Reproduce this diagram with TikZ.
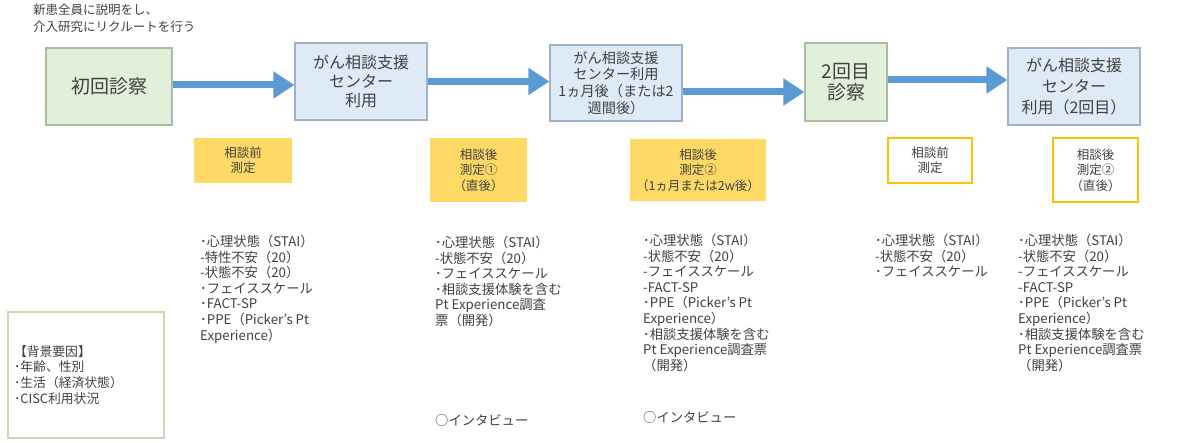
\documentclass[tikz,border=0pt]{standalone}
\usepackage{fontspec}
\setmainfont{Noto Sans CJK JP}
\usetikzlibrary{arrows.meta,calc}
\definecolor{tx}{HTML}{404040}
\definecolor{gfill}{HTML}{E2EFDA}
\definecolor{gline}{HTML}{A9BBA0}
\definecolor{bfill}{HTML}{DEEBF7}
\definecolor{bline}{HTML}{9FB2C9}
\definecolor{arrc}{HTML}{5B9BD5}
\definecolor{yfill}{HTML}{FFD966}
\definecolor{oline}{HTML}{FFC000}
\definecolor{bgline}{HTML}{C5D9B5}
\tikzset{
  every node/.style={text=tx, inner sep=0pt},
  greenbox/.style={fill=gfill, draw=gline, line width=1.2pt, align=center},
  bluebox/.style={fill=bfill, draw=bline, line width=1.2pt, align=center},
  yelbox/.style={fill=yfill, align=center, font=\fontsize{12.5}{15.5}\selectfont},
  obox/.style={fill=white, draw=oline, line width=2.5pt, align=center, font=\fontsize{12.5}{15.5}\selectfont},
  listtxt/.style={anchor=north west, align=left, font=\fontsize{13.3}{15.6}\selectfont},
  flow/.style={draw=arrc, line width=7pt, -{Triangle[length=21pt,width=26pt]}},
}
\begin{document}
\begin{tikzpicture}[x=1pt,y=-1pt]
\useasboundingbox (0,0) rectangle (1187,443);
% top note
\node[anchor=north west, align=left, font=\fontsize{12.5}{17}\selectfont] (note) at (33,4) {新患全員に説明をし、\\介入研究にリクルートを行う};
% main boxes
\node[greenbox, minimum width=126pt, minimum height=77pt, font=\fontsize{19}{22}\selectfont] (b1) at (109,86.5) {初回診察};
\node[bluebox, minimum width=132pt, minimum height=77pt, font=\fontsize{16}{19}\selectfont] (b2) at (361,81.5) {がん相談支援\\センター\\利用};
\node[bluebox, minimum width=132pt, minimum height=76pt, font=\fontsize{14.2}{16.7}\selectfont] (b3) at (616,83) {がん相談支援\\センター利用\\1ヵ月後（または2\\週間後）};
\node[greenbox, minimum width=82pt, minimum height=78pt, font=\fontsize{19}{21}\selectfont] (b4) at (846,82) {2回目\\診察};
\node[bluebox, minimum width=132pt, minimum height=77pt, font=\fontsize{16}{21}\selectfont] (b5) at (1074,86.5) {がん相談支援\\センター\\利用（2回目）};
% arrows
\draw[flow] ($(b1.east)+(0,-1.5)$) -- ($(b1.east -| b2.west)+(0,-1.5)$);
\draw[flow] (b2.east) -- (b2.east -| b3.west);
\draw[flow] ($(b3.east)+(0,9)$) -- ($(b3.east -| b4.west)+(0,9)$);
\draw[flow] ($(b4.east)+(0,-2)$) -- ($(b4.east -| b5.west)+(0,-2)$);
% measurement boxes
\node[yelbox, minimum width=98pt, minimum height=45pt] (y1) at (243,160.5) {相談前\\測定};
\node[yelbox, minimum width=97pt, minimum height=64pt] (y2) at (478.5,170) {相談後\\測定①\\（直後）};
\node[yelbox, minimum width=136pt, minimum height=62pt] (y3) at (698,170) {相談後\\測定②\\（1ヵ月または2w後）};
\node[obox, minimum width=84pt, minimum height=45pt] (o1) at (930,160.5) {相談前\\測定};
\node[obox, minimum width=85pt, minimum height=64pt] (o2) at (1095.5,170) {相談後\\測定②\\（直後）};
% lists
\node[listtxt] (l1) at (200,235) {･心理状態（STAI）\\-特性不安（20）\\-状態不安（20）\\･フェイススケール\\･FACT-SP\\･PPE（Picker's Pt\\Experience）};
\node[listtxt] (l2) at (435,236) {･心理状態（STAI）\\-状態不安（20）\\･フェイススケール\\･相談支援体験を含む\\Pt Experience調査\\票（開発）};
\node[listtxt] (i2) at (435,414) {○インタビュー};
\node[listtxt] (l3) at (643,234) {･心理状態（STAI）\\-状態不安（20）\\-フェイススケール\\-FACT-SP\\･PPE（Picker's Pt\\Experience）\\･相談支援体験を含む\\Pt Experience調査票\\（開発）};
\node[listtxt] (i3) at (643,411) {○インタビュー};
\node[listtxt] (l4) at (875,234) {･心理状態（STAI）\\-状態不安（20）\\･フェイススケール};
\node[listtxt] (l5) at (1018,234) {･心理状態（STAI）\\-状態不安（20）\\-フェイススケール\\-FACT-SP\\･PPE（Picker's Pt\\Experience）\\･相談支援体験を含む\\Pt Experience調査票\\（開発）};
% background factors
\node[draw=bgline, line width=1.5pt, minimum width=156pt, minimum height=126pt, text width=144pt, align=left, font=\fontsize{12.8}{15.8}\selectfont] (bg) at (86,375) {【背景要因】\\･年齢、性別\\･生活（経済状態）\\･CISC利用状況};
\end{tikzpicture}
\end{document}
